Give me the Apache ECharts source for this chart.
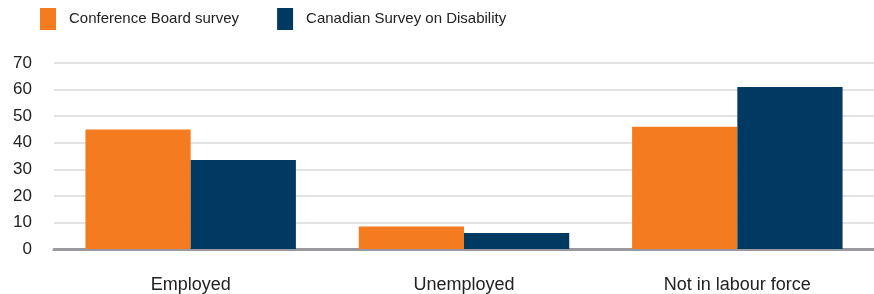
<!DOCTYPE html>
<html>
<head>
<meta charset="utf-8">
<script src="https://cdn.jsdelivr.net/npm/echarts@6/dist/echarts.min.js"></script>
<style>
  html, body { margin: 0; padding: 0; background: #fff; }
  #chart { width: 874px; height: 294px; }
</style>
</head>
<body>
<div id="chart"></div>
<script>
var categories = ['Employed', 'Unemployed', 'Not in labour force'];
var seriesNames = ['Conference Board survey', 'Canadian Survey on Disability'];
var conferenceBoard = [45, 8.5, 46];
var disabilitySurvey = [33.5, 6, 61];

var textFont = 'Liberation Sans';

var option = {
    animation: false,
    legend: {
        left: 40,
        top: 8,
        padding: 0,
        itemWidth: 16,
        itemHeight: 22,
        itemGap: 38,
        icon: 'rect',
        textStyle: {
            fontFamily: textFont,
            fontSize: 15,
            color: '#222',
            padding: [2, 0, 0, 8]
        },
        data: seriesNames
    },
    grid: {
        left: 54,
        width: 824,
        top: 63,
        bottom: 44,
        containLabel: false
    },
    xAxis: {
        type: 'category',
        data: categories,
        axisTick: { show: false },
        axisLine: { show: true, lineStyle: { color: '#9a9a9e', width: 3 } },
        axisLabel: { fontFamily: textFont, fontSize: 18, color: '#222', margin: 27 }
    },
    yAxis: {
        type: 'value',
        min: 0,
        max: 70,
        interval: 10,
        axisLine: { show: false },
        axisTick: { show: false },
        axisLabel: { fontFamily: textFont, fontSize: 17, color: '#222', margin: 22 },
        splitLine: { lineStyle: { color: '#d8d8d8', width: 1.5 } }
    },
    series: [
        {
            name: seriesNames[0],
            type: 'bar',
            data: conferenceBoard,
            barGap: '0%',
            barCategoryGap: '23%',
            itemStyle: { color: '#f47b20' }
        },
        {
            name: seriesNames[1],
            type: 'bar',
            data: disabilitySurvey,
            barGap: '0%',
            barCategoryGap: '23%',
            itemStyle: { color: '#003a63' }
        }
    ]
};

var myChart = echarts.init(document.getElementById('chart'));
myChart.setOption(option);
</script>
</body>
</html>
